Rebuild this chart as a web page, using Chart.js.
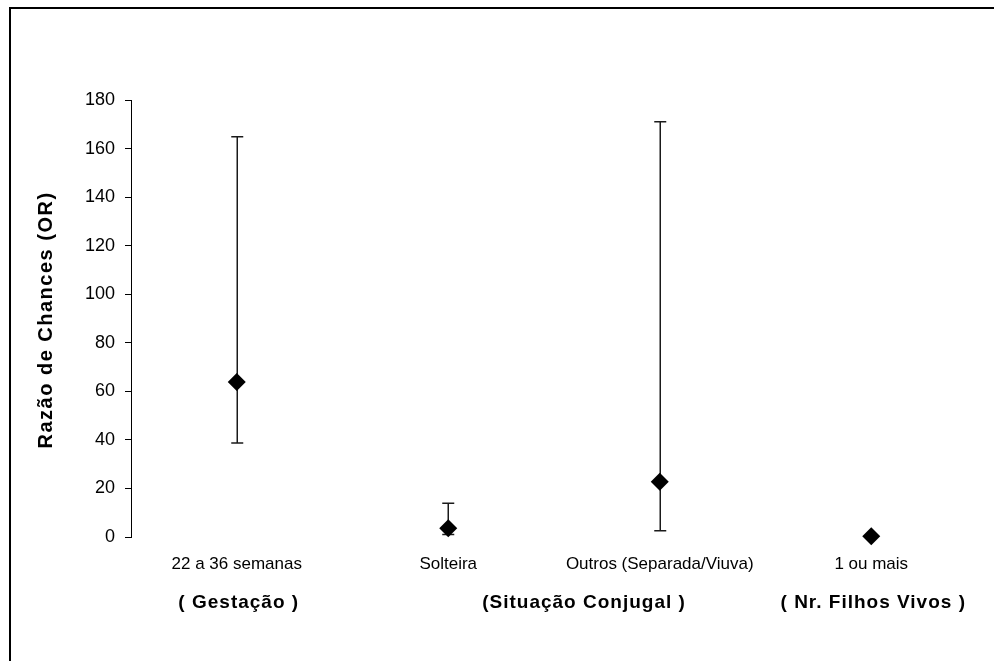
<!DOCTYPE html>
<html>
<head>
<meta charset="utf-8">
<script src="https://cdn.jsdelivr.net/npm/chart.js@4/dist/chart.umd.min.js"></script>
<style>
  html, body { margin: 0; padding: 0; background: #fff; }
  #wrap { width: 994px; height: 661px; position: relative; }
</style>
</head>
<body>
<div id="wrap"><canvas id="c"></canvas></div>
<script>
// Odds ratios with 95% confidence limits
const categories = ['22 a 36 semanas', 'Solteira', 'Outros (Separada/Viuva)', '1 ou mais'];
const oddsRatio  = [63.8, 3.6, 22.8, 0.3];
const lowerCI    = [38.7, 1.0, 2.6, null];
const upperCI    = [164.9, 13.9, 171.0, null];
const yTicks     = [0, 20, 40, 60, 80, 100, 120, 140, 160, 180];

// Variable groups shown under the category labels: [first index, last index, label]
const groups = [
  [0, 0, '( Gestação )'],
  [1, 2, '(Situação Conjugal )'],
  [3, 3, '( Nr. Filhos Vivos )']
];
const yTitle = 'Razão de Chances (OR)';

const FONT = '"Liberation Sans", Arial, sans-serif';

const errorBars = {
  id: 'errorBars',
  beforeDatasetsDraw(chart) {
    const ctx = chart.ctx, x = chart.scales.x, y = chart.scales.y;
    ctx.save();
    ctx.strokeStyle = '#1a1a1a';
    ctx.lineWidth = 1.5;
    categories.forEach((c, i) => {
      if (lowerCI[i] == null || upperCI[i] == null) return;
      const px = Math.round(x.getPixelForValue(i)) + 0.25;
      const yl = y.getPixelForValue(lowerCI[i]);
      const yu = y.getPixelForValue(upperCI[i]);
      ctx.beginPath();
      ctx.moveTo(px, yl); ctx.lineTo(px, yu);
      ctx.moveTo(px - 6, yl); ctx.lineTo(px + 6, yl);
      ctx.moveTo(px - 6, yu); ctx.lineTo(px + 6, yu);
      ctx.stroke();
    });
    ctx.restore();
  }
};

const labelsAndFrame = {
  id: 'labelsAndFrame',
  afterDraw(chart) {
    const ctx = chart.ctx, x = chart.scales.x;
    ctx.save();
    ctx.fillStyle = '#000';
    ctx.textAlign = 'center';
    ctx.textBaseline = 'middle';

    // category labels
    ctx.font = '17px ' + FONT;
    ctx.letterSpacing = '0px';
    categories.forEach((c, i) => {
      ctx.fillText(c, x.getPixelForValue(i), 564);
    });

    // group labels
    ctx.font = 'bold 19px ' + FONT;
    ctx.letterSpacing = '1px';
    groups.forEach(([a, b, t]) => {
      const cx = (x.getPixelForValue(a) + x.getPixelForValue(b)) / 2;
      ctx.fillText(t, cx + (a !== b ? 30 : 2), 603);
    });

    // y axis title
    ctx.font = 'bold 20px ' + FONT;
    ctx.letterSpacing = '1.5px';
    ctx.translate(46, 320);
    ctx.rotate(-Math.PI / 2);
    ctx.fillText(yTitle, 0, 0);
    ctx.setTransform(1, 0, 0, 1, 0, 0);

    // frame
    ctx.letterSpacing = '0px';
    ctx.strokeStyle = '#000';
    ctx.lineWidth = 2;
    ctx.strokeRect(10, 8, 1100, 800);
    ctx.restore();
  }
};

new Chart(document.getElementById('c'), {
  type: 'line',
  data: {
    labels: categories,
    datasets: [{
      data: oddsRatio,
      showLine: false,
      clip: false,
      pointStyle: 'rectRot',
      pointRadius: 9,
      pointHoverRadius: 9,
      pointBackgroundColor: '#000',
      pointBorderColor: '#000',
      pointBorderWidth: 0
    }]
  },
  options: {
    responsive: true,
    maintainAspectRatio: false,
    animation: false,
    events: [],
    layout: { padding: { left: 0, right: 17, top: 100, bottom: 0 } },
    plugins: { legend: { display: false }, tooltip: { enabled: false } },
    scales: {
      x: {
        type: 'category',
        offset: true,
        grid: { display: false },
        border: { display: false },
        ticks: { display: false },
        afterFit(s) { s.height = 124; }
      },
      y: {
        min: 0,
        max: 180,
        afterBuildTicks(s) { s.ticks = yTicks.map(v => ({ value: v })); },
        ticks: {
          color: '#000',
          padding: 10,
          font: { family: FONT, size: 18 }
        },
        grid: {
          drawOnChartArea: false,
          drawTicks: true,
          tickLength: 6,
          color: '#000',
          lineWidth: 1
        },
        border: { display: true, color: '#000', width: 1 },
        afterFit(s) { s.width = 131; }
      }
    }
  },
  plugins: [errorBars, labelsAndFrame]
});
</script>
</body>
</html>
